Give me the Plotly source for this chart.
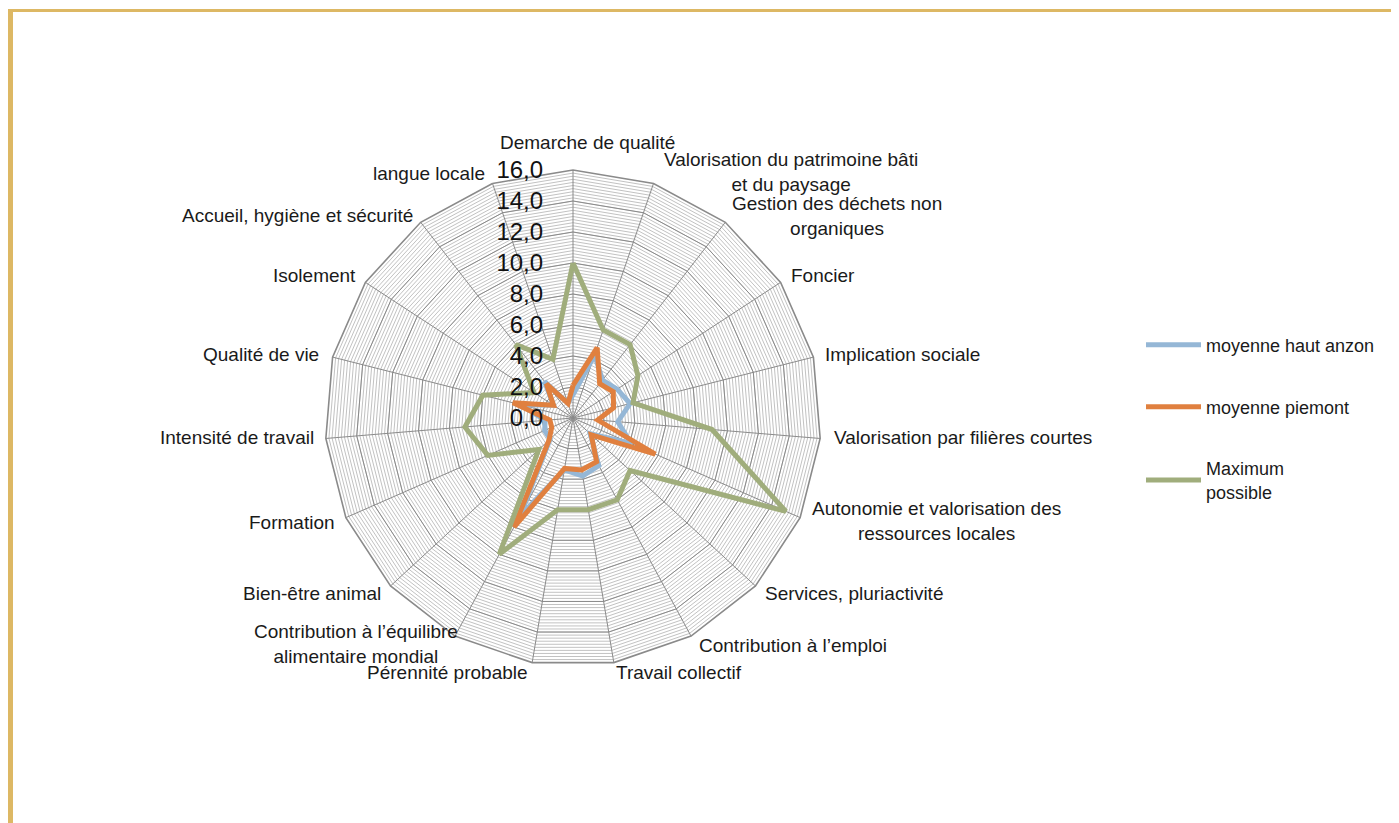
import plotly.graph_objects as go

W, H = 1399, 823
OFF = 8  # page body margin: reference pixel -> figure pixel

categories = [
    "Demarche de qualité",
    "Valorisation du patrimoine bâti<br>et du paysage",
    "Gestion des déchets non<br>organiques",
    "Foncier",
    "Implication sociale",
    "Valorisation par filières courtes",
    "Autonomie et valorisation des<br>ressources locales",
    "Services, pluriactivité",
    "Contribution à l’emploi",
    "Travail collectif",
    "Pérennité probable",
    "Contribution à l’équilibre<br>alimentaire mondial",
    "Bien-être animal",
    "Formation",
    "Intensité de travail",
    "Qualité de vie",
    "Isolement",
    "Accueil, hygiène et sécurité",
    "langue locale",
]

haut_anzon = [1.5, 4.3, 3.1, 3.4, 3.8, 2.9, 4.1, 1.5, 3.5, 3.8, 3.4, 7.2, 2.0, 2.0, 1.8, 3.5, 1.5, 3.0, 1.0]
piemont = [2.1, 4.8, 2.8, 3.1, 2.7, 1.6, 5.8, 1.6, 3.2, 3.4, 3.3, 8.0, 2.1, 1.5, 1.5, 4.0, 1.5, 2.8, 1.0]
maximum = [10, 6, 6, 5, 4, 9, 15, 5, 6, 6, 6, 10, 3, 6, 7, 6, 3, 6, 4]

series_names = ["moyenne haut anzon", "moyenne piemont", "Maximum<br>possible"]
series_values = [haut_anzon, piemont, maximum]
series_colors = ["#95B7D6", "#E0803F", "#A0AD7C"]
legend_ids = ["legend", "legend2", "legend3"]

FONT = "Liberation Sans, Arial, sans-serif"

# label placement (reference pixels): x, y, anchor
label_pos = [
    (587, 143, "center"), (662, 172, "left"), (730, 216, "left"), (789, 276, "left"),
    (823, 354, "left"), (832, 438, "left"), (810, 521, "left"), (763, 593, "left"),
    (697, 645, "left"), (614, 672, "left"), (530, 672, "right"), (460, 644, "right"),
    (383, 593, "right"), (337, 522, "right"), (316, 438, "right"), (321, 354, "right"),
    (358, 276, "right"), (415, 215, "right"), (487, 174, "right"),
]


def px(x):
    return (x - OFF) / W


def py(y):
    return 1 - (y - OFF) / H


fig = go.Figure()

fig.add_trace(go.Scatterpolar(r=[0] * len(categories), theta=categories, mode="lines",
                              line=dict(color="rgba(0,0,0,0)"), showlegend=False,
                              hoverinfo="skip", subplot="polar"))

for name, vals, col, lg in zip(series_names, series_values, series_colors, legend_ids):
    fig.add_trace(go.Scatterpolar(
        r=vals + vals[:1], theta=categories + categories[:1], mode="lines",
        name=name, line=dict(color=col, width=5), subplot="polar2", legend=lg,
    ))

CX, CY, R = 573, 418, 248
dom_x = [px(CX - R), px(CX + R)]
dom_y = [py(CY + R), py(CY - R)]

annotations = [
    dict(text=t, x=px(x), y=py(y), xref="paper", yref="paper", xanchor=a, yanchor="middle",
         align="center", showarrow=False, font=dict(size=19, color="#1a1a1a"))
    for t, (x, y, a) in zip(categories, label_pos)
]

legend_common = dict(xanchor="left", yanchor="middle", font=dict(size=18, color="#1a1a1a"),
                     bgcolor="rgba(0,0,0,0)", itemwidth=55)

fig.update_layout(
    width=W, height=H,
    margin=dict(l=0, r=0, t=0, b=0),
    paper_bgcolor="white",
    separators=", ",
    font=dict(family=FONT, size=16, color="#1a1a1a"),
    polar=dict(
        domain=dict(x=dom_x, y=dom_y),
        bgcolor="white",
        gridshape="linear",
        radialaxis=dict(range=[0, 16], tick0=0, dtick=0.2, showticklabels=False,
                        gridcolor="#C2C2C2", gridwidth=1, showline=False, ticks=""),
        angularaxis=dict(direction="clockwise", rotation=90, showticklabels=False,
                         showgrid=False, showline=False, ticks=""),
    ),
    polar2=dict(
        domain=dict(x=dom_x, y=dom_y),
        bgcolor="rgba(0,0,0,0)",
        gridshape="linear",
        radialaxis=dict(range=[0, 16], tick0=0, dtick=2, tickformat=".1f",
                        gridcolor="#8A8A8A", gridwidth=1.4, showline=False,
                        ticks="outside", ticklen=21, tickcolor="rgba(0,0,0,0)",
                        angle=90, tickangle=90, side="counterclockwise",
                        tickfont=dict(size=24, color="#111")),
        angularaxis=dict(direction="clockwise", rotation=90, gridcolor="#8A8A8A",
                         gridwidth=1.4, linecolor="#8A8A8A", linewidth=1.6, ticks="",
                         showticklabels=False),
    ),
    legend=dict(x=px(1141), y=py(345), **legend_common),
    legend2=dict(x=px(1141), y=py(407), **legend_common),
    legend3=dict(x=px(1141), y=py(480), **legend_common),
    annotations=annotations,
    shapes=[
        dict(type="rect", xref="paper", yref="paper", x0=px(8), x1=px(13), y0=0, y1=py(9),
             fillcolor="#DDB864", line=dict(width=0)),
        dict(type="rect", xref="paper", yref="paper", x0=px(8), x1=1, y0=py(12), y1=py(9),
             fillcolor="#DDB864", line=dict(width=0)),
    ],
)

fig.write_html("out.html")
